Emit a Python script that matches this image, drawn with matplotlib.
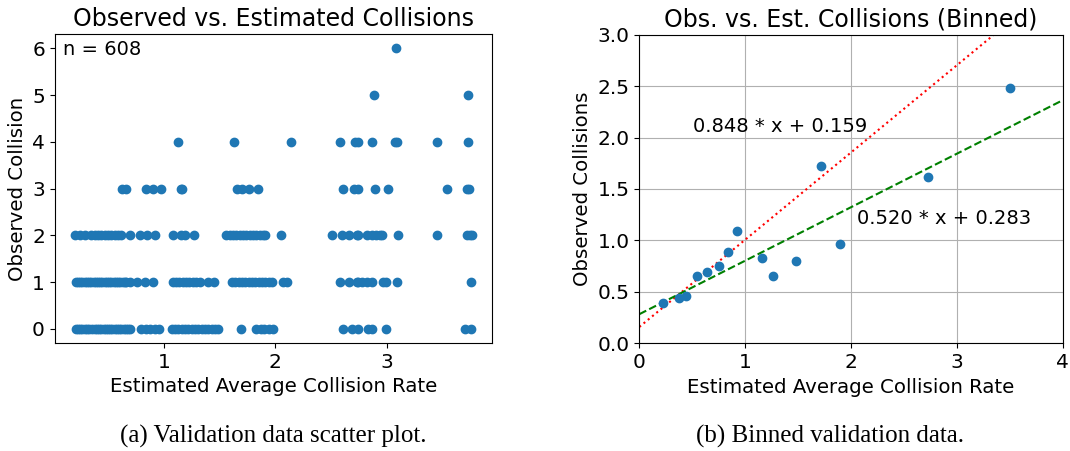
import matplotlib
matplotlib.use("Agg")
import matplotlib.pyplot as plt
import numpy as np

# ---------------- data: left scatter (observed count per estimated rate) -------------
x_obs0 = [0.21, 0.23, 0.25, 0.27, 0.29, 0.31, 0.33, 0.36, 0.38, 0.40, 0.42, 0.44, 0.46,
          0.48, 0.50, 0.52, 0.54, 0.56, 0.58, 0.60, 0.62, 0.64, 0.66, 0.68, 0.70,
          0.80, 0.84, 0.88, 0.92, 0.96,
          1.07, 1.10, 1.13, 1.16, 1.19, 1.22, 1.25, 1.28, 1.31, 1.34, 1.37, 1.40, 1.43,
          1.46, 1.49, 1.69, 1.83, 1.87, 1.90, 1.94, 1.98,
          2.61, 2.69, 2.74, 2.83, 2.87, 2.99, 3.70, 3.75]
x_obs1 = [0.21, 0.23, 0.25, 0.27, 0.29, 0.31, 0.33, 0.35, 0.37, 0.39, 0.41, 0.43, 0.45,
          0.47, 0.49, 0.51, 0.53, 0.55, 0.57, 0.59, 0.61, 0.63, 0.65, 0.66,
          0.70, 0.76, 0.83, 0.90,
          1.08, 1.11, 1.14, 1.17, 1.20, 1.23, 1.26, 1.29, 1.32, 1.40, 1.45,
          1.61, 1.64, 1.67, 1.70, 1.73, 1.76, 1.79, 1.82, 1.85, 1.88, 1.91, 1.94, 1.97,
          2.07, 2.10,
          2.58, 2.66, 2.73, 2.74, 2.78, 2.82, 2.87, 2.96, 2.99, 3.09, 3.75]
x_obs2 = [0.20, 0.25, 0.29, 0.35, 0.38, 0.41, 0.44, 0.47, 0.50, 0.53, 0.56, 0.59, 0.62,
          0.70, 0.79, 0.85, 0.92,
          1.08, 1.15, 1.19, 1.27,
          1.56, 1.59, 1.62, 1.65, 1.68, 1.71, 1.74, 1.77, 1.80, 1.83, 1.86, 1.89, 1.91,
          2.05,
          2.51, 2.60, 2.66, 2.73, 2.74, 2.82, 2.87, 2.90, 2.94, 2.955, 3.10, 3.45,
          3.72, 3.745, 3.76]
x_obs3 = [0.627, 0.657, 0.842, 0.905, 0.977, 1.15, 1.165, 1.657, 1.70, 1.76, 1.84,
          2.61, 2.70, 2.74, 2.89, 3.01, 3.54, 3.72, 3.737]
x_obs4 = [1.125, 1.633, 2.14, 2.58, 2.716, 2.74, 2.865, 3.074, 3.09, 3.45, 3.73]
x_obs5 = [2.88, 3.73]
x_obs6 = [3.08]
rows = [x_obs0, x_obs1, x_obs2, x_obs3, x_obs4, x_obs5, x_obs6]
n_label = "n = 608"

# ---------------- data: right binned plot -------------
bin_est = [0.227, 0.375, 0.444, 0.542, 0.64, 0.75, 0.841, 0.923, 1.156, 1.26, 1.48,
           1.714, 1.893, 2.725, 3.50]
bin_obs = [0.389, 0.437, 0.457, 0.657, 0.69, 0.748, 0.89, 1.091, 0.832, 0.651, 0.80,
           1.723, 0.965, 1.619, 2.478]
fit_slopes = [0.848, 0.520]
fit_intercepts = [0.159, 0.283]

blue = "#1f77b4"
fs_tick = 14.5
fs_lab = 14.2
fs_ann = 14.0
fs_title = 17.0

fig = plt.figure(figsize=(10.70, 4.51), dpi=100)
ax1 = fig.add_axes([0.0511, 0.2395, 0.4084, 0.6845])
ax2 = fig.add_axes([0.5975, 0.2388, 0.3957, 0.6843])

# left scatter
xs, ys = [], []
for level, vals in enumerate(rows):
    xs.extend(vals)
    ys.extend([level] * len(vals))
ax1.scatter(xs, ys, color=blue)
ax1.set_xticks([1, 2, 3])
ax1.set_yticks([0, 1, 2, 3, 4, 5, 6])
ax1.tick_params(labelsize=fs_tick)
ax1.set_title("Observed vs. Estimated Collisions", fontsize=fs_title)
ax1.set_xlabel("Estimated Average Collision Rate", fontsize=fs_lab)
ax1.set_ylabel("Observed Collision", fontsize=fs_lab)
ax1.text(0.02, 0.98, n_label, transform=ax1.transAxes, ha="left", va="top", fontsize=fs_ann)

# right binned
ax2.scatter(bin_est, bin_obs, color=blue, zorder=3)
xx = np.array([0.0, 4.0])
ax2.plot(xx, fit_slopes[0] * xx + fit_intercepts[0], color="red", linestyle=":", zorder=2)
ax2.plot(xx, fit_slopes[1] * xx + fit_intercepts[1], color="green", linestyle="--", zorder=2)
ax2.text(0.51, 2.11, f"{fit_slopes[0]:.3f} * x + {fit_intercepts[0]:.3f}", fontsize=fs_ann, va="center")
ax2.text(2.06, 1.215, f"{fit_slopes[1]:.3f} * x + {fit_intercepts[1]:.3f}", fontsize=fs_ann, va="center")
ax2.set_xlim(0, 4)
ax2.set_ylim(0, 3)
ax2.set_xticks([0, 1, 2, 3, 4])
ax2.set_yticks([0, 0.5, 1.0, 1.5, 2.0, 2.5, 3.0])
ax2.grid(True)
ax2.set_axisbelow(True)
ax2.tick_params(labelsize=fs_tick)
ax2.set_title("Obs. vs. Est. Collisions (Binned)", fontsize=fs_title)
ax2.set_xlabel("Estimated Average Collision Rate", fontsize=fs_lab)
ax2.set_ylabel("Observed Collisions", fontsize=fs_lab)

# captions
fig.text(0.2551, 1 - 436 / 451, "(a) Validation data scatter plot.", ha="center", va="center",
         fontsize=18, family="Liberation Serif")
fig.text(0.7757, 1 - 436 / 451, "(b) Binned validation data.", ha="center", va="center",
         fontsize=18, family="Liberation Serif")

fig.savefig("out.png", dpi=100)
